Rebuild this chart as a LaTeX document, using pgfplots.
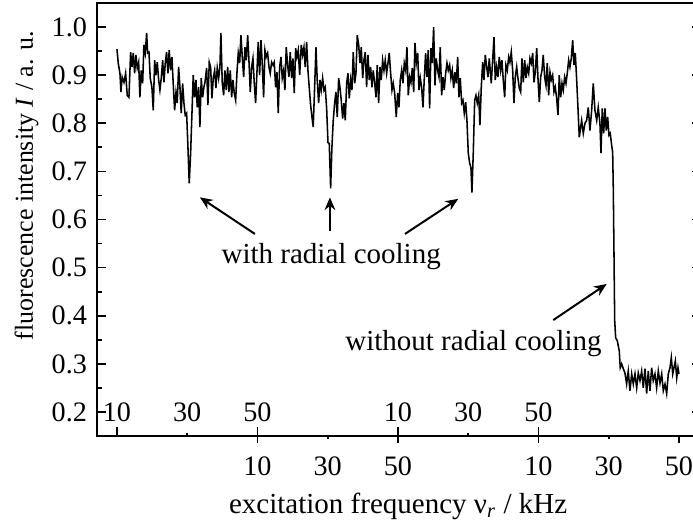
\documentclass[border=0pt]{standalone}
\usepackage{fontspec}
\setmainfont{Liberation Serif}
\usepackage{pgfplots}
\pgfplotsset{compat=1.18}
\usepackage{pgfplotstable}
\usetikzlibrary{arrows.meta}

\pgfplotstableread{
x y
0.000 0.954
0.019 0.925
0.043 0.904
0.057 0.865
0.075 0.896
0.100 0.885
0.124 0.904
0.147 0.858
0.171 0.854
0.195 0.948
0.214 0.917
0.232 0.946
0.252 0.904
0.270 0.942
0.289 0.915
0.309 0.927
0.327 0.854
0.346 0.910
0.366 0.883
0.384 0.963
0.403 0.946
0.423 0.988
0.437 0.946
0.456 0.948
0.474 0.894
0.498 0.875
0.517 0.827
0.537 0.931
0.555 0.900
0.574 0.927
0.594 0.890
0.612 0.869
0.631 0.894
0.651 0.931
0.669 0.885
0.688 0.925
0.707 0.948
0.726 0.904
0.744 0.952
0.764 0.910
0.783 0.938
0.801 0.883
0.821 0.827
0.840 0.863
0.858 0.842
0.878 0.917
0.897 0.875
0.915 0.821
0.935 0.883
0.954 0.842
0.972 0.817
0.992 0.821
1.011 0.750
1.029 0.675
1.049 0.738
1.068 0.821
1.086 0.900
1.106 0.854
1.125 0.890
1.143 0.833
1.163 0.875
1.181 0.792
1.200 0.894
1.220 0.854
1.238 0.875
1.253 0.885
1.277 0.915
1.295 0.838
1.314 0.927
1.334 0.917
1.352 0.852
1.371 0.894
1.391 0.910
1.409 0.873
1.428 0.915
1.448 0.894
1.466 0.917
1.480 0.988
1.499 0.885
1.519 0.858
1.537 0.910
1.556 0.869
1.576 0.917
1.594 0.865
1.613 0.910
1.633 0.854
1.651 0.890
1.670 0.863
1.690 0.848
1.708 0.904
1.727 0.946
1.747 0.925
1.765 0.983
1.784 0.938
1.804 0.896
1.822 0.958
1.841 0.931
1.861 0.983
1.879 0.931
1.898 0.865
1.917 0.917
1.936 0.935
1.954 0.885
1.974 0.842
1.993 0.906
2.011 0.969
2.031 0.900
2.050 0.973
2.068 0.925
2.088 0.854
2.107 0.952
2.125 0.938
2.145 0.946
2.164 0.917
2.182 0.904
2.202 0.927
2.221 0.921
2.239 0.927
2.259 0.875
2.278 0.906
2.296 0.821
2.316 0.917
2.335 0.938
2.353 0.894
2.373 0.910
2.391 0.869
2.410 0.958
2.430 0.921
2.448 0.896
2.467 0.948
2.487 0.894
2.505 0.935
2.524 0.863
2.544 0.956
2.562 0.938
2.581 0.952
2.601 0.900
2.624 0.963
2.643 0.942
2.662 0.958
2.680 0.917
2.700 0.969
2.719 0.910
2.737 0.875
2.757 0.838
2.776 0.813
2.794 0.792
2.814 0.875
2.833 0.958
2.851 0.890
2.871 0.842
2.890 0.890
2.908 0.869
2.928 0.894
2.947 0.869
2.965 0.875
2.985 0.831
3.004 0.760
3.022 0.758
3.042 0.665
3.060 0.750
3.079 0.806
3.099 0.842
3.117 0.865
3.136 0.813
3.156 0.894
3.174 0.875
3.193 0.848
3.213 0.810
3.231 0.842
3.250 0.806
3.270 0.883
3.288 0.904
3.307 0.852
3.327 0.890
3.345 0.869
3.364 0.948
3.384 0.883
3.402 0.904
3.421 0.983
3.441 0.963
3.459 0.925
3.478 0.958
3.498 0.894
3.516 0.931
3.535 0.948
3.554 0.875
3.573 0.942
3.592 0.890
3.611 0.917
3.630 0.875
3.648 0.910
3.668 0.885
3.687 0.854
3.705 0.921
3.725 0.842
3.744 0.917
3.762 0.890
3.782 0.931
3.801 0.910
3.819 0.931
3.839 0.904
3.858 0.925
3.876 0.946
3.896 0.904
3.915 0.869
3.933 0.883
3.953 0.863
3.976 0.813
3.996 0.863
4.014 0.833
4.033 0.890
4.053 0.910
4.071 0.883
4.090 0.925
4.110 0.910
4.128 0.958
4.147 0.858
4.167 0.896
4.185 0.885
4.204 0.915
4.224 0.865
4.242 0.967
4.261 0.925
4.281 0.946
4.299 0.869
4.318 0.894
4.337 0.875
4.356 0.833
4.374 0.890
4.394 0.946
4.413 0.896
4.431 0.952
4.451 0.831
4.470 0.956
4.488 0.925
4.508 1.000
4.527 0.879
4.545 0.935
4.565 0.910
4.584 0.896
4.602 0.958
4.622 0.858
4.641 0.896
4.659 0.869
4.679 0.904
4.698 0.925
4.716 0.910
4.736 0.921
4.754 0.894
4.773 0.910
4.793 0.873
4.811 0.906
4.830 0.883
4.850 0.938
4.868 0.854
4.887 0.894
4.907 0.842
4.925 0.848
4.944 0.821
4.964 0.844
4.982 0.806
5.001 0.738
5.021 0.717
5.039 0.708
5.053 0.656
5.072 0.738
5.092 0.848
5.110 0.858
5.129 0.842
5.149 0.858
5.167 0.796
5.186 0.875
5.206 0.927
5.224 0.890
5.243 0.942
5.263 0.917
5.281 0.896
5.300 0.935
5.328 0.883
5.348 0.931
5.367 0.979
5.385 0.890
5.405 0.917
5.423 0.896
5.442 0.938
5.462 0.910
5.480 0.931
5.499 0.890
5.519 0.854
5.537 0.921
5.556 0.910
5.576 0.938
5.594 0.927
5.613 0.948
5.633 0.910
5.651 0.842
5.670 0.896
5.690 0.917
5.708 0.894
5.727 0.873
5.747 0.865
5.765 0.935
5.784 0.885
5.804 0.931
5.822 0.894
5.841 0.917
5.861 0.904
5.879 0.935
5.898 0.925
5.918 0.946
5.936 0.885
5.955 0.906
5.975 0.956
5.993 0.894
6.012 0.844
6.031 0.896
6.050 0.910
6.068 0.942
6.088 0.896
6.107 0.879
6.125 0.925
6.145 0.858
6.164 0.906
6.182 0.890
6.202 0.900
6.221 0.865
6.239 0.875
6.259 0.852
6.278 0.817
6.296 0.900
6.316 0.854
6.335 0.883
6.353 0.869
6.373 0.896
6.392 0.883
6.410 0.904
6.430 0.931
6.448 0.917
6.467 0.935
6.487 0.973
6.505 0.921
6.524 0.946
6.544 0.890
6.562 0.833
6.581 0.771
6.615 0.806
6.638 0.779
6.662 0.800
6.686 0.806
6.709 0.833
6.733 0.785
6.757 0.827
6.780 0.883
6.804 0.827
6.829 0.806
6.851 0.833
6.875 0.800
6.890 0.738
6.908 0.831
6.928 0.779
6.947 0.831
6.965 0.785
6.985 0.813
7.004 0.775
7.022 0.779
7.042 0.754
7.056 0.740
7.065 0.667
7.075 0.529
7.085 0.390
7.099 0.354
7.122 0.348
7.150 0.327
7.164 0.292
7.184 0.300
7.207 0.290
7.231 0.281
7.255 0.258
7.278 0.285
7.302 0.244
7.327 0.279
7.350 0.258
7.374 0.279
7.398 0.250
7.421 0.281
7.445 0.265
7.469 0.285
7.492 0.250
7.516 0.290
7.540 0.238
7.563 0.285
7.587 0.244
7.611 0.292
7.634 0.265
7.658 0.279
7.682 0.250
7.706 0.285
7.730 0.260
7.754 0.279
7.777 0.244
7.801 0.258
7.825 0.238
7.848 0.279
7.872 0.292
7.891 0.313
7.911 0.279
7.929 0.292
7.948 0.306
7.968 0.271
7.986 0.292
8.000 0.279
}\spectrum

\begin{document}
\begin{tikzpicture}
\pgfplotsset{
  common/.style={
    scale only axis, width=212.6pt, height=153.7pt,
    xmin=-0.285, xmax=8.24, ymin=0.15, ymax=1.05,
    axis line style={line width=0.8pt},
    every tick/.style={black, line width=0.6pt},
    tick label style={font=\fontsize{10}{12}\selectfont},
  }
}
% main axis: data, left y ticks, frame, top-row x labels (inward ticks)
\begin{axis}[common, name=A,
  tick align=inside,
  major tick length=3.2pt, minor tick length=1.7pt,
  ytick={0.2,0.3,0.4,0.5,0.6,0.7,0.8,0.9,1.0},
  minor y tick num=1,
  ytick pos=left,
  yticklabel style={/pgf/number format/.cd, fixed, fixed zerofill, precision=1, assume math mode=true},
  xtick={0,2,4,6}, xticklabels={10,50,10,50},
  extra x ticks={1,5}, extra x tick labels={30,30},
  extra x tick style={major tick length=1pt},
  xtick pos=bottom,
  xticklabel style={anchor=center, yshift=8.3pt},
  xlabel={excitation frequency ν\textsubscript{\textit{r}} / kHz},
  xlabel style={at={(axis description cs:0.503,-0.1785)}, anchor=base, font=\fontsize{10.3}{12}\selectfont},
  ylabel={fluorescence intensity \textit{I} / a. u.},
  ylabel style={at={(axis description cs:-0.1069,0.578)}, anchor=base, font=\fontsize{9.2}{11}\selectfont},
]
\addplot[black, line width=0.55pt, mark=none] table[x=x, y=y] {\spectrum};
\node[font=\fontsize{10.3}{12}\selectfont] at (axis cs:3.05,0.524) {with radial cooling};
\node[font=\fontsize{10.3}{12}\selectfont] at (axis cs:5.075,0.342) {without radial cooling};
\draw[line width=0.7pt, -{Stealth[length=4.5pt, width=3.8pt]}] (axis cs:1.964,0.570) -- (axis cs:1.181,0.646);
\draw[line width=0.7pt, -{Stealth[length=4.5pt, width=3.8pt]}] (axis cs:3.032,0.577) -- (axis cs:3.032,0.646);
\draw[line width=0.7pt, -{Stealth[length=4.5pt, width=3.8pt]}] (axis cs:4.100,0.570) -- (axis cs:4.858,0.643);
\draw[line width=0.7pt, -{Stealth[length=4.5pt, width=3.8pt]}] (axis cs:6.211,0.391) -- (axis cs:6.971,0.466);
\end{axis}
% bottom-row x labels (outward ticks)
\begin{axis}[common, name=B,
  hide y axis,
  axis line style={draw=none},
  xtick pos=bottom,
  tick align=outside,
  major tick length=2.5pt,
  xtick={2,4,6,8}, xticklabels={10,50,10,50},
  extra x ticks={3,7}, extra x tick labels={30,30},
  extra x tick style={major tick length=1pt, xticklabel style={yshift=-1.5pt}},
  xticklabel style={anchor=center, yshift=-8.2pt},
]
\end{axis}
% right y ticks
\begin{axis}[common, name=D,
  hide x axis, axis y line*=right,
  tick align=inside,
  major tick length=1.5pt,
  ytick={0.2,0.3,0.4,0.5,0.6,0.7,0.8,0.9,1.0}, yticklabels={},
]
\end{axis}
\pgfresetboundingbox
\path[use as bounding box] ([xshift=-34.4pt,yshift=-30.2pt]A.south west) rectangle ([xshift=211.6pt,yshift=1.07pt]A.north west);
\end{tikzpicture}
\end{document}
